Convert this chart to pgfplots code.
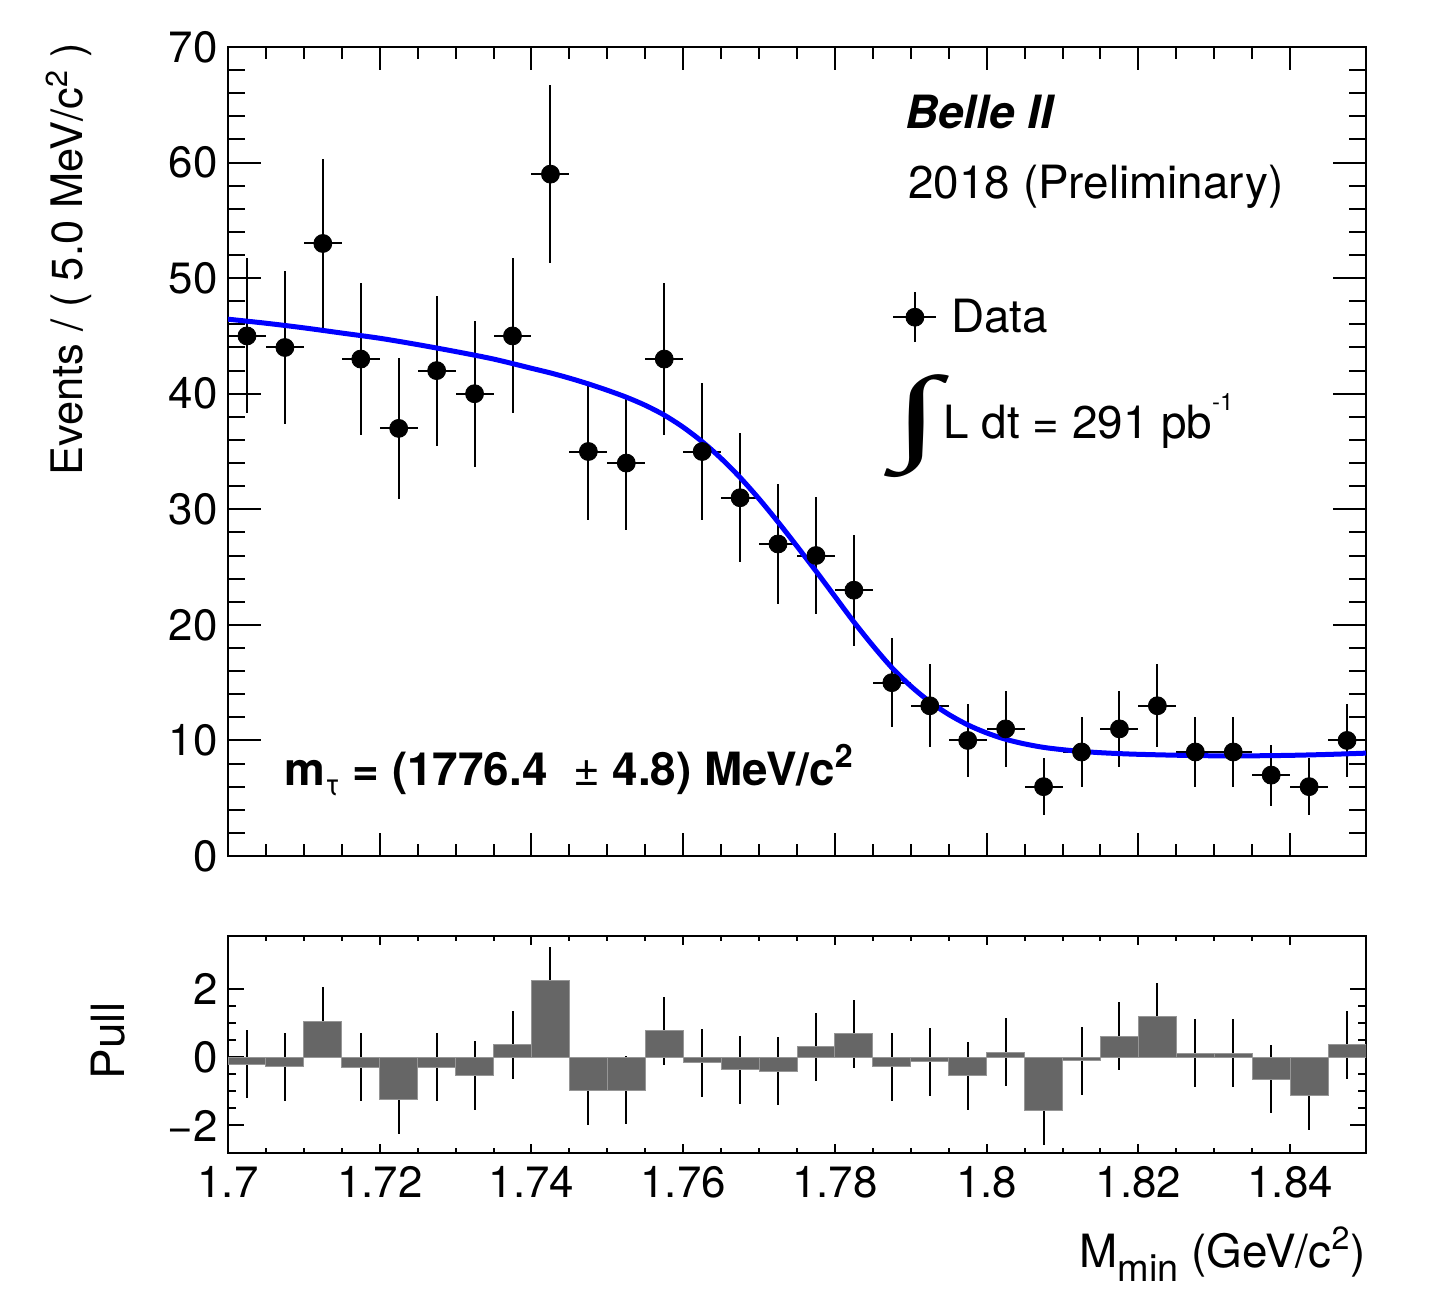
\documentclass[border=0pt]{standalone}
\usepackage{pgfplots}
\pgfplotsset{compat=1.18}
\usepackage{pgfplotstable}
\usepackage{fontspec}
\usepackage{graphicx}
\setmainfont{TeX Gyre Heros}
\newfontfamily\serifint{Liberation Serif}
\definecolor{fitblue}{RGB}{0,0,255}
\definecolor{pullgray}{RGB}{102,102,102}
\definecolor{pulledge}{RGB}{150,150,150}

\pgfplotstableread{
x y ey
1.7025 45 6.708
1.7075 44 6.633
1.7125 53 7.280
1.7175 43 6.557
1.7225 37 6.083
1.7275 42 6.481
1.7325 40 6.325
1.7375 45 6.708
1.7425 59 7.681
1.7475 35 5.916
1.7525 34 5.831
1.7575 43 6.557
1.7625 35 5.916
1.7675 31 5.568
1.7725 27 5.196
1.7775 26 5.099
1.7825 23 4.796
1.7875 15 3.873
1.7925 13 3.606
1.7975 10 3.162
1.8025 11 3.317
1.8075 6 2.449
1.8125 9 3.000
1.8175 11 3.317
1.8225 13 3.606
1.8275 9 3.000
1.8325 9 3.000
1.8375 7 2.646
1.8425 6 2.449
1.8475 10 3.162
}\datatable

\pgfplotstableread{
x y
1.700 46.45
1.705 46.10
1.710 45.70
1.715 45.25
1.720 44.80
1.725 44.25
1.730 43.65
1.735 43.00
1.740 42.20
1.7425 41.80
1.745 41.35
1.7475 40.85
1.750 40.30
1.7525 39.70
1.755 39.00
1.7575 38.15
1.760 37.10
1.7625 35.85
1.765 34.40
1.7675 32.75
1.770 30.90
1.7725 28.90
1.775 26.80
1.7775 24.65
1.780 22.45
1.7825 20.25
1.785 18.20
1.7875 16.30
1.790 14.70
1.7925 13.35
1.795 12.25
1.7975 11.35
1.800 10.65
1.8025 10.10
1.805 9.70
1.8075 9.40
1.810 9.20
1.8125 9.05
1.815 8.94
1.8175 8.86
1.820 8.80
1.825 8.72
1.830 8.67
1.835 8.67
1.840 8.71
1.845 8.79
1.850 8.90
}\fittable

\pgfplotstableread{
x p
1.700 -0.20
1.705 -0.28
1.710 1.07
1.715 -0.29
1.720 -1.24
1.725 -0.29
1.730 -0.53
1.735 0.37
1.740 2.26
1.745 -0.98
1.750 -0.96
1.755 0.78
1.760 -0.16
1.765 -0.36
1.770 -0.41
1.775 0.32
1.780 0.69
1.785 -0.27
1.790 -0.13
1.795 -0.54
1.800 0.16
1.805 -1.57
1.810 -0.10
1.815 0.63
1.820 1.19
1.825 0.12
1.830 0.13
1.835 -0.64
1.840 -1.12
1.845 0.37
1.850 0.37
}\pullbins

\pgfplotstableread{
x p e
1.7025 -0.20 1
1.7075 -0.28 1
1.7125 1.07 1
1.7175 -0.29 1
1.7225 -1.24 1
1.7275 -0.29 1
1.7325 -0.53 1
1.7375 0.37 1
1.7425 2.26 1
1.7475 -0.98 1
1.7525 -0.96 1
1.7575 0.78 1
1.7625 -0.16 1
1.7675 -0.36 1
1.7725 -0.41 1
1.7775 0.32 1
1.7825 0.69 1
1.7875 -0.27 1
1.7925 -0.13 1
1.7975 -0.54 1
1.8025 0.16 1
1.8075 -1.57 1
1.8125 -0.10 1
1.8175 0.63 1
1.8225 1.19 1
1.8275 0.12 1
1.8325 0.13 1
1.8375 -0.64 1
1.8425 -1.12 1
1.8475 0.37 1
}\pullpts

\newcommand\tickfont{\fontsize{22}{26}\selectfont}
\newcommand\labfont{\fontsize{23}{27}\selectfont}

\begin{document}
\begin{tikzpicture}
\useasboundingbox (0,0) rectangle (719bp,-655bp);

% ---------- upper panel ----------
\begin{axis}[
  at={(114bp,-428bp)}, anchor=south west,
  width=569bp, height=404.5bp, scale only axis,
  xmin=1.7, xmax=1.85, ymin=0, ymax=70,
  xtick={1.70,1.72,1.74,1.76,1.78,1.80,1.82,1.84},
  xticklabels={},
  minor x tick num=3,
  ytick={0,10,20,30,40,50,60,70},
  minor y tick num=4,
  tick align=inside,
  xtick pos=both, ytick pos=both,
  axis line style={line width=1bp},
  every tick/.style={black, line width=1bp},
  x tick style={/pgfplots/major tick length=11.5bp, /pgfplots/minor tick length=6bp},
  y tick style={/pgfplots/major tick length=16.5bp, /pgfplots/minor tick length=8.5bp},
  /pgf/number format/assume math mode=true,
  yticklabel style={font=\tickfont, inner sep=0pt, xshift=-5bp},
  clip=true,
  legend style={at={(0.5835,0.666)}, anchor=west, draw=none, fill=none,
     font=\labfont, inner sep=0pt,
     nodes={inner sep=2bp},
     /tikz/every odd column/.append style={column sep=5bp}},
  legend cell align=left,
]
\addplot[only marks, mark=*, mark size=4.5bp, black,
  legend image code/.code={
    \draw[black, line width=1bp] (0bp,0bp) -- (21.5bp,0bp) (10.75bp,-12.5bp) -- (10.75bp,12.5bp);
    \fill[black] (10.75bp,0bp) circle (4.5bp);
  },
  error bars/.cd, x dir=both, x fixed=0.0025, y dir=both, y explicit,
  error bar style={line width=1bp, black}, error mark=none,
  ] table[x=x, y=y, y error=ey] {\datatable};
\addlegendentry{Data}
\addplot[fitblue, line width=2.5bp, smooth, forget plot] table[x=x, y=y] {\fittable};
\end{axis}

% ---------- pull panel ----------
\begin{axis}[
  at={(114bp,-576.35bp)}, anchor=south west,
  width=569bp, height=108.35bp, scale only axis,
  xmin=1.7, xmax=1.85, ymin=-2.8, ymax=3.57,
  xtick={1.70,1.72,1.74,1.76,1.78,1.80,1.82,1.84},
  xticklabels={1.7,1.72,1.74,1.76,1.78,1.8,1.82,1.84},
  minor x tick num=3,
  ytick={-2,0,2},
  yticklabels={−2,0,2},
  minor y tick num=3,
  tick align=inside,
  xtick pos=both, ytick pos=both,
  axis line style={line width=1bp},
  every tick/.style={black, line width=1bp},
  x tick style={/pgfplots/major tick length=4.5bp, /pgfplots/minor tick length=2.5bp},
  y tick style={/pgfplots/major tick length=8bp, /pgfplots/minor tick length=4bp},
  xticklabel style={font=\tickfont, inner sep=0pt, yshift=-6.5bp},
  yticklabel style={font=\tickfont, inner sep=0pt, xshift=-5bp},
]
\addplot[draw=none, mark=none,
  error bars/.cd, y dir=both, y explicit,
  error bar style={line width=1bp, black}, error mark=none,
  ] table[x=x, y=p, y error=e] {\pullpts};
\addplot[ybar interval, fill=pullgray, draw=pulledge, line width=0.5bp] table[x=x, y=p] {\pullbins};
\end{axis}

% ---------- labels ----------
\node[rotate=90, anchor=east, font=\fontsize{21.8}{26}\selectfont, inner sep=0pt] at (34.5bp,-21.5bp)
  {Events / ( 5.0 MeV/c\textsuperscript{2} )};
\node[rotate=90, anchor=center, font=\labfont, inner sep=0pt] at (54bp,-520.5bp) {Pull};
\node[anchor=base east, font=\labfont, inner sep=0pt] at (683bp,-633.5bp)
  {M\raisebox{-7bp}{\fontsize{19}{19}\selectfont min} (GeV/c\textsuperscript{2})};

\node[anchor=base west, font=\labfont\bfseries\itshape, inner sep=0pt] at (452.5bp,-64bp) {Belle II};
\node[anchor=base west, font=\labfont, inner sep=0pt] at (454bp,-99bp) {2018 (Preliminary)};
\node[anchor=center, inner sep=0pt] at (458.5bp,-213.25bp)
  {\resizebox*{23.5bp}{51.5bp}{\serifint ∫}};
\node[anchor=base west, font=\labfont, inner sep=0pt] at (471.5bp,-219bp)
  {L dt = 291 pb\raisebox{14bp}{\fontsize{12}{12}\selectfont -1}};
\node[anchor=base west, font=\labfont\bfseries, inner sep=0pt] at (142bp,-392.5bp)
  {m\raisebox{-5bp}{\fontsize{15}{15}\selectfont\mdseries τ} = (1776.4 \ {\mdseries ±} 4.8) MeV/c\textsuperscript{2}};
\end{tikzpicture}
\end{document}
